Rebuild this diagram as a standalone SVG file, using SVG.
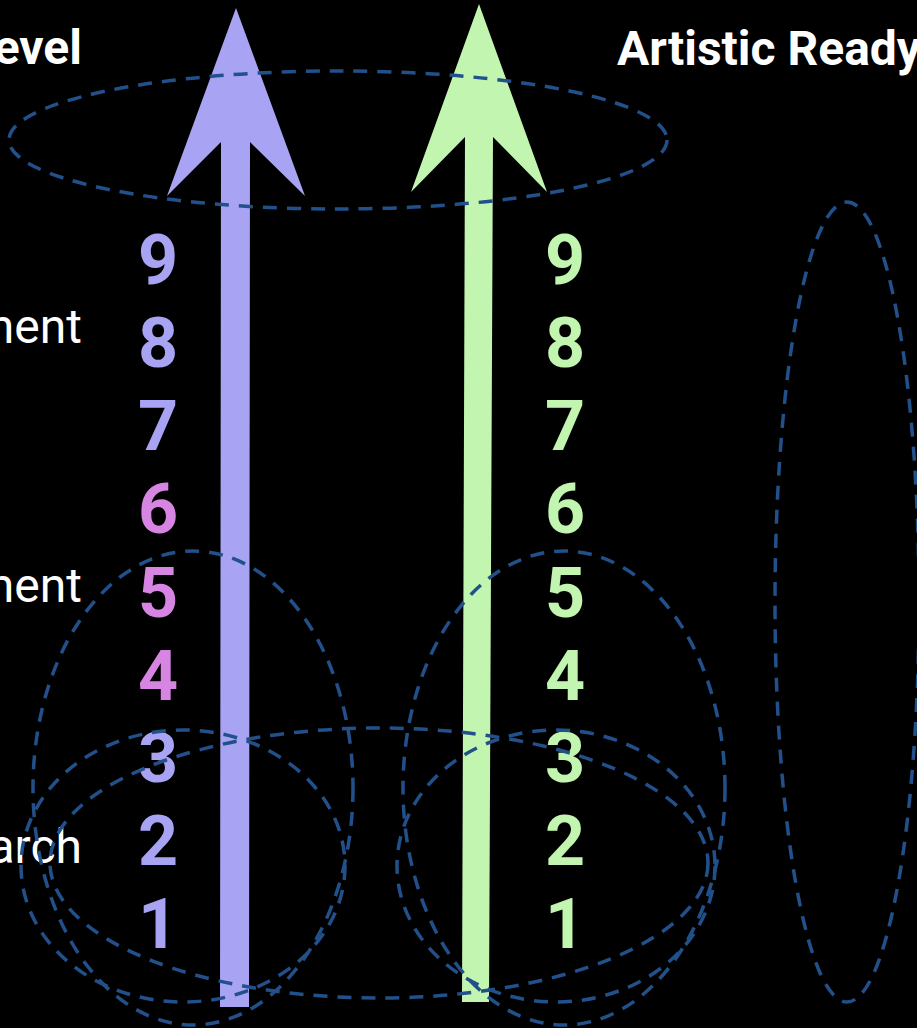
<svg xmlns="http://www.w3.org/2000/svg" width="917" height="1028" viewBox="0 0 917 1028">
<style>
.lbl{font-family:Roboto,"Liberation Sans",sans-serif;font-size:48px;fill:#ffffff;text-anchor:end}
.b{font-weight:700}
.num{font-family:Roboto,"Liberation Sans",sans-serif;font-size:70px;font-weight:700;text-anchor:middle}
.p{fill:#a8a3f3}
.m{fill:#d785e2}
.g{fill:#c2f6b0}
.d{fill:none;stroke:#22508a;stroke-width:3.5;stroke-dasharray:14 10}
</style>
<rect width="917" height="1028" fill="#000000"/>
<g id="labels">
<text class="lbl b" x="82" y="64">evel</text>
<text class="lbl" x="82" y="343">nent</text>
<text class="lbl" x="82" y="602">nent</text>
<text class="lbl" x="82" y="863">arch</text>
<text class="lbl b" x="617" y="65" style="text-anchor:start">Artistic Ready</text>
</g>
<g id="scale-left">
<text class="num p" x="158" y="284">9</text>
<text class="num p" x="158" y="367">8</text>
<text class="num p" x="158" y="450">7</text>
<text class="num m" x="158" y="533">6</text>
<text class="num m" x="158" y="617">5</text>
<text class="num m" x="158" y="700">4</text>
<text class="num p" x="158" y="782">3</text>
<text class="num p" x="158" y="865">2</text>
<text class="num p" x="158" y="948">1</text>
</g>
<g id="scale-right">
<text class="num g" x="565" y="284">9</text>
<text class="num g" x="565" y="367">8</text>
<text class="num g" x="565" y="450">7</text>
<text class="num g" x="565" y="533">6</text>
<text class="num g" x="565" y="617">5</text>
<text class="num g" x="565" y="700">4</text>
<text class="num g" x="565" y="782">3</text>
<text class="num g" x="565" y="865">2</text>
<text class="num g" x="565" y="948">1</text>
</g>
<g id="connectors">
<polygon class="p" points="236,8 305,196 250,142 249,1007 220,1007 221,142 167,196"/>
<polygon class="g" points="479,4 547,192 493,137 489,1002 462,1002 465,137 411,192"/>
</g>
<g id="top-ellipse"><ellipse class="d" cx="338" cy="140" rx="329" ry="69"/></g>
<g id="right-ellipse"><ellipse class="d" cx="847" cy="602" rx="72" ry="400"/></g>
<g id="egg-left"><ellipse class="d" cx="193" cy="788" rx="160" ry="237"/></g>
<g id="egg-right"><ellipse class="d" cx="564" cy="788" rx="161" ry="237"/></g>
<g id="circle-left"><ellipse class="d" cx="183" cy="866" rx="162" ry="136"/></g>
<g id="circle-right"><ellipse class="d" cx="556" cy="866" rx="159" ry="136"/></g>
<g id="wide-ellipse"><ellipse class="d" cx="379" cy="863" rx="329" ry="135"/></g>
</svg>
